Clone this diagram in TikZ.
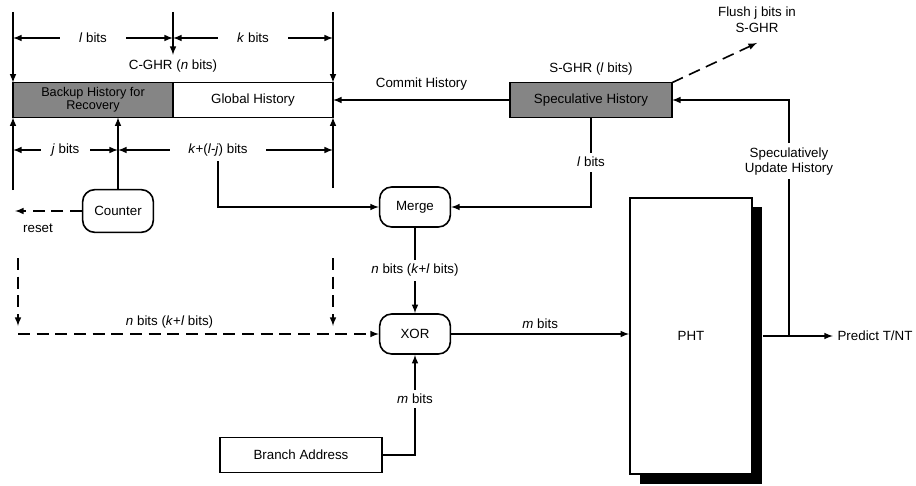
\documentclass[tikz,border=0pt]{standalone}
\usepackage{fontspec}
\setmainfont{Liberation Sans}
\usetikzlibrary{positioning}
\tikzset{
  >=latex,
}
\tikzstyle{every node}=[font=\fontsize{10}{11}\selectfont]
\tikzstyle{wire}=[line width=1.2pt]
\tikzstyle{dashwire}=[line width=1.2pt,dash pattern=on 9pt off 5pt]
\tikzstyle{reg}=[draw,line width=1.2pt,outer sep=0pt,inner sep=1pt,minimum height=26pt]
\tikzstyle{unit}=[draw,line width=1.2pt,rounded corners=9pt,minimum width=53pt,minimum height=30pt]
\tikzstyle{dimen}=[line width=1.2pt,<->]
\tikzstyle{gap}=[fill=white,inner xsep=8pt]

\begin{document}
\begin{tikzpicture}[x=.75pt,y=-.75pt]
    \useasboundingbox (0,0) rectangle (916,485);
    % C-GHR
    \node[reg,fill=black!48,minimum width=120pt,align=center,font=\fontsize{9.5}{8.5}\selectfont] (backup) at (93,100) {Backup History for\\Recovery};
    \node[reg,minimum width=120pt,right=0pt of backup] (global) {Global History};
    \node (cghr) at (173,66) {C-GHR (\textit{n} bits)};
    \draw[wire,->] (13,12) -- (backup.north west);
    \draw[wire,->] (173,12) -- (173,55);
    \draw[wire,->] (333,12) -- (global.north east);
    \draw[wire,->] (13,190) -- (backup.south west);
    \draw[wire,->] (333,188) -- (global.south east);
    \draw[dimen] (13,38) -- (173,38) node[midway,gap,inner xsep=14pt]{\textit{l} bits};
    \draw[dimen] (173,38) -- (333,38) node[midway,gap,inner xsep=14pt]{\textit{k} bits};
    \draw[dimen] (13,150) -- (118,150) node[midway,gap]{\textit{j} bits};
    \draw[dimen] (118,150) -- (333,150) node[pos=.465,gap,inner xsep=14pt] (klj) {\textit{k}+(\textit{l}-\textit{j}) bits};
    % counter
    \node[unit,minimum height=32pt] (counter) at (118,211) {Counter};
    \draw[wire,->] (counter.north) -- (counter.north |- backup.south);
    \coordinate (rst) at (15,211);
    \draw[dashwire,->] (counter.west) -- (rst);
    \node (reset) at (38,228) {reset};
    % S-GHR
    \node[reg,fill=black!48,minimum width=121.5pt] (sghr) at (591,100) {Speculative History};
    \node[above=2pt of sghr] (sghrname) {S-GHR (\textit{l} bits)};
    \node[align=center,font=\fontsize{10}{12}\selectfont] (flush) at (757,20) {Flush j bits in\\S-GHR};
    \draw[dashwire,->] (sghr.north east) -- ([yshift=-4pt]flush.south);
    \draw[wire,->] (sghr.west) -- (global.east) node[midway,above=3pt]{Commit History};
    % merge and xor
    \node[unit] (merge) at (415,207) {Merge};
    \node[unit] (xor) at (415,334) {XOR};
    \draw[wire,->] (klj.south) |- (merge.west);
    \draw[wire,->] (sghr.south) |- (merge.east) node[pos=.25,fill=white]{\textit{l} bits};
    \draw[wire,->] (merge) -- (xor) node[midway,fill=white]{\textit{n} bits (\textit{k}+\textit{l} bits)};
    \node[reg,minimum width=121.5pt] (branch) at (301,455) {Branch Address};
    \draw[wire,->] (branch.east) -| (xor.south) node[pos=.78,fill=white]{\textit{m} bits};
    % PHT
    \fill (640,207) rectangle (762,484);
    \node[draw,wire,fill=white,minimum width=91.5pt,minimum height=207pt] (pht) at (691,336) {PHT};
    \draw[wire,->] (xor.east) -- (xor.east -| pht.west) node[midway,above]{\textit{m} bits};
    \node (predict) at (875,336) {Predict T/NT};
    \draw[wire,->] ([xshift=7.5pt]pht.east) -- (predict.west);
    \coordinate (tap) at (789,336);
    \draw[wire,->] (tap) |- (sghr.east) node[pos=.37,fill=white,align=center]{Speculatively\\Update History};
    % reset paths
    \draw[dashwire,->] (18,258) -- (18,326);
    \draw[dashwire,->] (333,258) -- (333,326);
    \draw[dashwire,->] (18,334) -- (xor.west) node[pos=.42,above]{\textit{n} bits (\textit{k}+\textit{l} bits)};
\end{tikzpicture}
\end{document}
